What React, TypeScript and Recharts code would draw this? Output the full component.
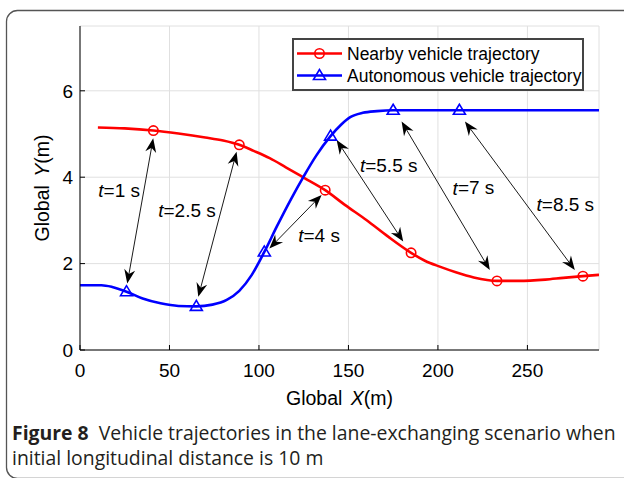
import React from 'react';
import {
  ComposedChart,
  Line,
  Scatter,
  XAxis,
  YAxis,
  CartesianGrid,
  ReferenceLine,
} from 'recharts';

// Nearby vehicle path, global X / Y in metres
const nearbyX = [10, 25, 41, 55, 70, 80, 89, 97, 106, 115, 125, 137, 148, 160, 172, 185, 193, 201, 210, 220, 233, 245, 260, 270, 281, 290];
const nearbyY = [5.15, 5.13, 5.08, 5.01, 4.92, 4.85, 4.75, 4.61, 4.44, 4.23, 3.99, 3.7, 3.36, 3.01, 2.63, 2.25, 2.06, 1.93, 1.8, 1.68, 1.6, 1.6, 1.63, 1.67, 1.71, 1.74];

// Autonomous vehicle path
const autoX = [0, 12, 18, 26, 35, 45, 55, 65, 74, 82, 89, 96, 103, 110, 118, 125, 132, 140, 146, 151, 158, 166, 175, 212, 290];
const autoY = [1.5, 1.5, 1.46, 1.35, 1.19, 1.08, 1.02, 1.01, 1.05, 1.16, 1.37, 1.74, 2.27, 2.86, 3.5, 4.02, 4.5, 4.95, 5.22, 5.39, 5.49, 5.53, 5.55, 5.55, 5.55];

// Positions at t = 1, 2.5, 4, 5.5, 7, 8.5 s
const nearbyMarkX = [41, 89, 137, 185, 233, 281];
const nearbyMarkY = [5.08, 4.75, 3.7, 2.25, 1.6, 1.71];
const autoMarkX = [26, 65, 103, 140, 175, 212];
const autoMarkY = [1.35, 1.01, 2.27, 4.95, 5.55, 5.55];

// Double arrows linking the two vehicles at each instant
const arrowTopX = [40.9, 87.5, 135, 143.4, 179.7, 215.1];
const arrowTopY = [4.9, 4.59, 3.59, 4.86, 5.29, 5.29];
const arrowBottomX = [26.4, 66.1, 105.8, 180.6, 229, 276.5];
const arrowBottomY = [1.54, 1.23, 2.35, 2.51, 1.85, 1.85];

// Time annotations
const timeLabels = ['1', '2.5', '4', '5.5', '7', '8.5'];
const timeLabelX = [10.2, 43.7, 121.9, 156.4, 208.2, 255.1];
const timeLabelY = [3.7, 3.24, 2.66, 4.28, 3.76, 3.37];

const xTicks = [0, 50, 100, 150, 200, 250];
const yTicks = [0, 2, 4, 6];

const W = 624;
const H = 478;
const FONT = '"Liberation Sans", Arial, Helvetica, sans-serif';
const RED = '#ff0000';
const BLUE = '#0000ff';

const zip = (xs: number[], ys: number[]) => xs.map((x, i) => ({ x, y: ys[i] }));

const nearbyPath = zip(nearbyX, nearbyY);
const autoPath = zip(autoX, autoY);
const nearbyMarks = zip(nearbyMarkX, nearbyMarkY);
const autoMarks = zip(autoMarkX, autoMarkY);
const labelPoints = timeLabels.map((t, i) => ({ x: timeLabelX[i], y: timeLabelY[i], t }));
const arrows = arrowTopX.map((x, i) => ({
  x1: x,
  y1: arrowTopY[i],
  x2: arrowBottomX[i],
  y2: arrowBottomY[i],
}));

const Circle = ({ cx, cy }: any) => (
  <circle cx={cx} cy={cy} r={4.7} fill="none" stroke={RED} strokeWidth={1.6} />
);

const Triangle = ({ cx, cy }: any) => (
  <polygon
    points={`${cx},${cy - 6} ${cx - 6},${cy + 4} ${cx + 6},${cy + 4}`}
    fill="none"
    stroke={BLUE}
    strokeWidth={1.6}
  />
);

const TimeLabel = ({ cx, cy, payload }: any) => (
  <text x={cx} y={cy} dominantBaseline="central" fontFamily={FONT} fontSize={19} fill="#000">
    <tspan fontStyle="italic">t</tspan>={payload.t} s
  </text>
);

// black line with a swept-back head at each end
const head = (px: number, py: number, ux: number, uy: number) => {
  const len = 14;
  const half = 5.5;
  const bx = px - ux * len;
  const by = py - uy * len;
  const nx = -uy;
  const ny = ux;
  const kx = px - ux * 9.5;
  const ky = py - uy * 9.5;
  return `${px},${py} ${bx + nx * half},${by + ny * half} ${kx},${ky} ${bx - nx * half},${by - ny * half}`;
};

const DoubleArrow = (p: any) => {
  const { x1, y1, x2, y2 } = p;
  const dx = x2 - x1;
  const dy = y2 - y1;
  const d = Math.hypot(dx, dy) || 1;
  const ux = dx / d;
  const uy = dy / d;
  return (
    <g>
      <line x1={x1 + ux * 9} y1={y1 + uy * 9} x2={x2 - ux * 9} y2={y2 - uy * 9} stroke="#000" strokeWidth={0.9} />
      <polygon points={head(x1, y1, -ux, -uy)} fill="#000" />
      <polygon points={head(x2, y2, ux, uy)} fill="#000" />
    </g>
  );
};

const XTitle = ({ viewBox }: any) => (
  <text
    x={viewBox.x + viewBox.width / 2}
    y={viewBox.y + 48}
    textAnchor="middle"
    dominantBaseline="central"
    fontFamily={FONT}
    fontSize={19.5}
    fill="#000"
  >
    Global <tspan dx={3} fontStyle="italic">X</tspan>(m)
  </text>
);

const YTitle = ({ viewBox }: any) => {
  const cx = viewBox.x + 22;
  const cy = viewBox.y + viewBox.height / 2;
  return (
    <text
      x={cx}
      y={cy}
      transform={`rotate(-90 ${cx} ${cy})`}
      textAnchor="middle"
      dominantBaseline="central"
      fontFamily={FONT}
      fontSize={19.5}
      fill="#000"
    >
      Global <tspan dx={3} fontStyle="italic">Y</tspan>(m)
    </text>
  );
};

const legendItems = [
  { label: 'Nearby vehicle trajectory', color: RED, marker: 'circle' },
  { label: 'Autonomous vehicle trajectory', color: BLUE, marker: 'triangle' },
];

// boxed legend in the upper right of the axes
const LegendBox = () => (
  <div
    style={{
      position: 'absolute',
      left: 292,
      top: 38,
      width: 292,
      height: 53,
      boxSizing: 'border-box',
      border: '2px solid #444',
      background: '#fff',
    }}
  >
    <svg width={288} height={49} style={{ position: 'absolute', left: 0, top: 0 }}>
      {legendItems.map((item, i) => {
        const cy = 13.5 + i * 22;
        return (
          <g key={item.label}>
            <line x1={3} y1={cy} x2={48} y2={cy} stroke={item.color} strokeWidth={2.4} />
            {item.marker === 'circle' ? (
              <circle cx={25.5} cy={cy} r={4.7} fill="none" stroke={item.color} strokeWidth={1.6} />
            ) : (
              <polygon
                points={`25.5,${cy - 6} 19.5,${cy + 4} 31.5,${cy + 4}`}
                fill="none"
                stroke={item.color}
                strokeWidth={1.6}
              />
            )}
            <text x={53} y={cy} dominantBaseline="central" fontFamily={FONT} fontSize={17.5} fill="#000">
              {item.label}
            </text>
          </g>
        );
      })}
    </svg>
  </div>
);

const tickStyle = { fontFamily: FONT, fontSize: 19, fill: '#000' };
const noTick = () => <g />;

export default function App() {
  return (
    <div style={{ position: 'absolute', left: 0, top: 0, width: W, height: H, background: '#fff', overflow: 'hidden' }}>
      <svg width={W} height={H} style={{ position: 'absolute', left: 0, top: 0 }}>
        <rect x={6.5} y={10.5} width={680} height={468} rx={11} fill="none" stroke="#555" strokeWidth={1.3} />
      </svg>
      <div style={{ position: 'absolute', left: 0, top: 0 }}>
        <ComposedChart width={W} height={H} margin={{ top: 26, right: 25, bottom: 68, left: 20 }}>
          <CartesianGrid stroke="#e0e0e0" strokeWidth={1} />
          <XAxis
            type="number"
            dataKey="x"
            domain={[0, 290]}
            ticks={xTicks}
            allowDataOverflow
            height={60}
            tickSize={-5}
            tickMargin={19}
            axisLine={{ stroke: '#000' }}
            tickLine={{ stroke: '#000' }}
            tick={tickStyle}
            label={XTitle}
          />
          <XAxis
            xAxisId="top"
            orientation="top"
            type="number"
            domain={[0, 290]}
            ticks={xTicks}
            allowDataOverflow
            height={0}
            tickSize={-5}
            axisLine={{ stroke: '#000' }}
            tickLine={{ stroke: '#000' }}
            tick={noTick}
          />
          <YAxis
            type="number"
            dataKey="y"
            domain={[0, 7.5]}
            ticks={yTicks}
            allowDataOverflow
            width={60}
            tickSize={-5}
            tickMargin={12}
            axisLine={{ stroke: '#000' }}
            tickLine={{ stroke: '#000' }}
            tick={tickStyle}
            label={YTitle}
          />
          <YAxis
            yAxisId="right"
            orientation="right"
            type="number"
            domain={[0, 7.5]}
            ticks={yTicks}
            allowDataOverflow
            width={0}
            tickSize={-5}
            axisLine={{ stroke: '#000' }}
            tickLine={{ stroke: '#000' }}
            tick={noTick}
          />
          <Line
            data={nearbyPath}
            dataKey="y"
            type="monotone"
            stroke={RED}
            strokeWidth={2.6}
            dot={false}
            isAnimationActive={false}
            name="Nearby vehicle trajectory"
          />
          <Line
            data={autoPath}
            dataKey="y"
            type="monotone"
            stroke={BLUE}
            strokeWidth={2.6}
            dot={false}
            isAnimationActive={false}
            name="Autonomous vehicle trajectory"
          />
          <Scatter data={nearbyMarks} dataKey="y" shape={Circle} isAnimationActive={false} />
          <Scatter data={autoMarks} dataKey="y" shape={Triangle} isAnimationActive={false} />
          {arrows.map((a, i) => (
            <ReferenceLine
              key={i}
              segment={[
                { x: a.x1, y: a.y1 },
                { x: a.x2, y: a.y2 },
              ]}
              ifOverflow="visible"
              shape={DoubleArrow}
            />
          ))}
          <Scatter data={labelPoints} dataKey="y" shape={TimeLabel} isAnimationActive={false} />
        </ComposedChart>
      </div>
      <LegendBox />
      <div
        style={{
          position: 'absolute',
          left: 12,
          top: 420,
          width: 612,
          fontFamily: '"Open Sans", "Noto Sans", sans-serif',
          fontSize: 19.4,
          lineHeight: '25px',
          color: '#231f20',
          whiteSpace: 'nowrap',
        }}
      >
        <b>Figure 8</b>&nbsp; Vehicle trajectories in the lane-exchanging scenario when
        <br />
        initial longitudinal distance is 10 m
      </div>
    </div>
  );
}
